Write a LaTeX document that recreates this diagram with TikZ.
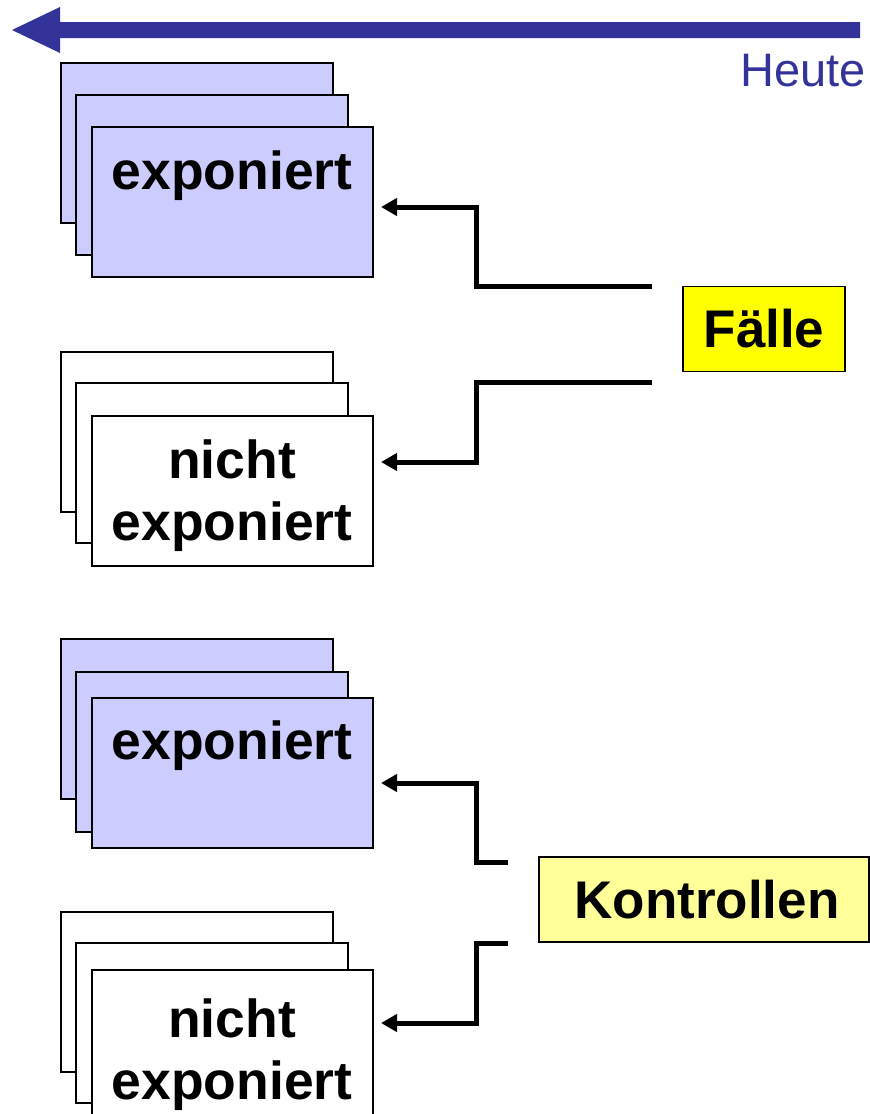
\documentclass[tikz,border=0pt]{standalone}
\usepackage{fontspec}
\setmainfont{Liberation Sans}
\usetikzlibrary{arrows.meta}
\definecolor{navy}{HTML}{333399}
\definecolor{lav}{HTML}{CCCCFF}
\definecolor{yel}{HTML}{FFFF00}
\definecolor{lyel}{HTML}{FFFF99}
\begin{document}
\begin{tikzpicture}[x=1bp,y=-1bp,
  card/.style={draw=black, line width=1.8bp, anchor=north west, inner sep=0pt,
    minimum width=272bp, minimum height=160bp},
  frontcard/.style={card, minimum width=281bp, minimum height=150bp},
  lbl/.style={anchor=base, inner sep=0pt, font=\fontsize{53.5bp}{62bp}\selectfont\bfseries},
  tag/.style={draw=black, line width=1.8bp, inner sep=0pt, minimum height=85bp,
    font=\fontsize{53bp}{62bp}\selectfont\bfseries},
  conn/.style={line width=5bp, line join=miter, -{Triangle[length=16bp,width=17bp]}}
]
\useasboundingbox (0,0) rectangle (870,1114);

% time arrow
\fill[navy] (860,22) -- (60,22) -- (60,7) -- (12,30) -- (60,53) -- (60,38) -- (860,38) -- cycle;
\node[anchor=base east, inner sep=0pt, text=navy, font=\fontsize{47bp}{56bp}\selectfont] (heute) at (866,86) {Heute};

% stack 1: exponiert (Faelle)
\node[card, fill=lav] (s1a) at (60,62) {};
\node[card, fill=lav] (s1b) at (75,94) {};
\node[frontcard, fill=lav] (s1c) at (91,126) {};
\node[lbl] (l1) at (232,189) {exponiert};

% stack 2: nicht exponiert (Faelle)
\node[card, fill=white] (s2a) at (60,351) {};
\node[card, fill=white] (s2b) at (75,382) {};
\node[frontcard, fill=white] (s2c) at (91,415) {};
\node[lbl] (l2a) at (232,478) {nicht};
\node[lbl] (l2b) at (232,540) {exponiert};

% stack 3: exponiert (Kontrollen)
\node[card, fill=lav] (s3a) at (60,638) {};
\node[card, fill=lav] (s3b) at (75,671) {};
\node[frontcard, fill=lav] (s3c) at (91,697) {};
\node[lbl] (l3) at (232,759) {exponiert};

% stack 4: nicht exponiert (Kontrollen)
\node[card, fill=white] (s4a) at (60,911) {};
\node[card, fill=white] (s4b) at (75,942) {};
\node[frontcard, fill=white] (s4c) at (91,969) {};
\node[lbl] (l4a) at (232,1037) {nicht};
\node[lbl] (l4b) at (232,1099) {exponiert};

% group labels
\node[tag, fill=yel, minimum width=162bp] (faelle) at (764,329) {Fälle};
\node[tag, fill=lyel, minimum width=330bp, text width=324bp, align=center] (kontr) at (704,899.5) {\hspace*{6bp}Kontrollen};

% connector ends
\coordinate (fa1) at (652,286);
\coordinate (fa2) at (652,382);
\coordinate (ka1) at (508,862);
\coordinate (ka2) at (508,943);
\coordinate (t1) at (381,207);
\coordinate (t2) at (381,462);
\coordinate (t3) at (381,783);
\coordinate (t4) at (381,1023);

\draw[conn] (fa1) -- ++(-176,0) |- (t1);
\draw[conn] (fa2) -- ++(-176,0) |- (t2);
\draw[conn] (ka1) -- ++(-32,0) |- (t3);
\draw[conn] (ka2) -- ++(-32,0) |- (t4);
\end{tikzpicture}
\end{document}
